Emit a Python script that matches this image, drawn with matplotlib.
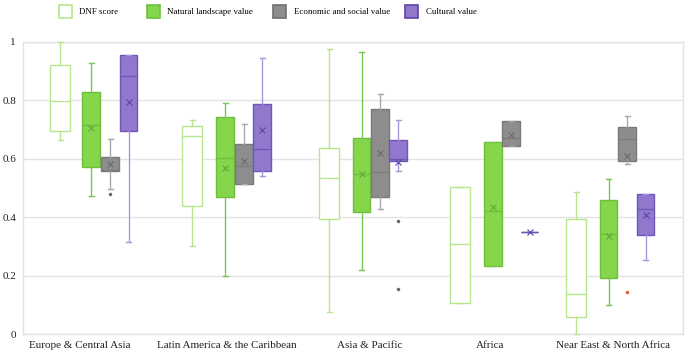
import matplotlib
matplotlib.use("Agg")
import matplotlib.pyplot as plt
from matplotlib.patches import Patch

plt.rcParams['font.family'] = ['Liberation Serif', 'DejaVu Serif']

regions = ["Europe & Central Asia", "Latin America & the Caribbean",
           "Asia & Pacific", "Africa", "Near East & North Africa"]
series_names = ["DNF score", "Natural landscape value",
                "Economic and social value", "Cultural value"]
yticks = [0, 0.2, 0.4, 0.6, 0.8, 1]
ytick_labels = ["0", "0.2", "0.4", "0.6", "0.8", "1"]

# DNF score
dnf_whislo = [0.663, 0.303, 0.075, 0.108, 0.0]
dnf_q1 = [0.695, 0.440, 0.393, 0.108, 0.058]
dnf_med = [0.796, 0.677, 0.533, 0.308, 0.137]
dnf_q3 = [0.919, 0.711, 0.636, 0.503, 0.393]
dnf_whishi = [1.0, 0.731, 0.974, 0.503, 0.487]
dnf_mean = [0.80, 0.60, 0.52, 0.31, 0.22]
dnf_fliers = [[], [], [], [], []]

# Natural landscape value
nat_whislo = [0.473, 0.200, 0.219, 0.233, 0.100]
nat_q1 = [0.573, 0.470, 0.417, 0.233, 0.192]
nat_med = [0.714, 0.601, 0.547, 0.420, 0.343]
nat_q3 = [0.827, 0.742, 0.670, 0.656, 0.459]
nat_whishi = [0.928, 0.790, 0.964, 0.656, 0.531]
nat_mean = [0.706, 0.569, 0.549, 0.436, 0.336]
nat_fliers = [[], [], [], [], []]

# Economic and social value
eco_whislo = [0.498, 0.513, 0.428, 0.644, 0.583]
eco_q1 = [0.557, 0.513, 0.468, 0.644, 0.593]
eco_med = [0.560, 0.575, 0.554, 0.671, 0.666]
eco_q3 = [0.605, 0.652, 0.769, 0.729, 0.707]
eco_whishi = [0.669, 0.720, 0.821, 0.729, 0.746]
eco_mean = [0.582, 0.592, 0.621, 0.681, 0.608]
eco_fliers = [[0.479], [], [], [], [0.145]]

# Cultural value
cul_whislo = [0.315, 0.540, 0.557, 0.350, 0.254]
cul_q1 = [0.696, 0.557, 0.593, 0.350, 0.338]
cul_med = [0.882, 0.633, 0.600, 0.350, 0.427]
cul_q3 = [0.955, 0.787, 0.664, 0.350, 0.479]
cul_whishi = [0.955, 0.943, 0.733, 0.350, 0.479]
cul_mean = [0.795, 0.697, 0.590, 0.350, 0.408]
cul_fliers = [[], [], [0.388, 0.156], [], []]

# ---- layout (pixel-like x coordinates) ----
pos = {
    "dnf": [60, 192, 329, 460, 576],
    "nat": [91, 225, 361.5, 493, 608.5],
    "eco": [110, 244, 380, 511, 627],
    "cul": [128.5, 262, 398, 529.5, 645.5],
}
label_pos = [79.5, 227, 370, 490, 613.5]
legend_left_px = [58.7, 146.7, 273.3, 405]


def stats(wl, q1, med, q3, wh, mean, fl):
    return [dict(whislo=a, q1=b, med=c, q3=d, whishi=e, mean=f, fliers=g)
            for a, b, c, d, e, f, g in zip(wl, q1, med, q3, wh, mean, fl)]


fig = plt.figure(figsize=(6.85, 3.58), dpi=100)
ax = fig.add_axes([23 / 685, 1 - 334.3 / 358, 660 / 685, (334.3 - 41.7) / 358])

cfg = [
    ("dnf", stats(dnf_whislo, dnf_q1, dnf_med, dnf_q3, dnf_whishi, dnf_mean, dnf_fliers),
     "white", "#b8e68c", "#b8e68c", "#b8e68c", False, 19.5),
    ("nat", stats(nat_whislo, nat_q1, nat_med, nat_q3, nat_whishi, nat_mean, nat_fliers),
     "#86d64b", "#6dbf3c", "#7cc552", "#5fa838", True, 17.5),
    ("eco", stats(eco_whislo, eco_q1, eco_med, eco_q3, eco_whishi, eco_mean, eco_fliers),
     "#8d8d8d", "#7a7a7a", "#a9a9a9", "#6a6a6a", True, 17.5),
    ("cul", stats(cul_whislo, cul_q1, cul_med, cul_q3, cul_whishi, cul_mean, cul_fliers),
     "#9178cd", "#6f56bb", "#ab97dd", "#5d45a8", True, 17.5),
]

for key, st, fc, ec, wc, mc, showmean, w in cfg:
    res = ax.bxp(st, positions=pos[key], widths=w, patch_artist=True,
                 showmeans=showmean, showfliers=True, capwidths=5,
                 boxprops=dict(facecolor=fc, edgecolor=ec, linewidth=1.0),
                 medianprops=dict(color=ec, linewidth=1.0),
                 whiskerprops=dict(color=wc, linewidth=1.0),
                 capprops=dict(color=wc, linewidth=1.0),
                 meanprops=dict(marker="x", markeredgecolor=mc, markersize=4,
                                markeredgewidth=0.8, linestyle="none"),
                 flierprops=dict(marker="o", markerfacecolor="#666666",
                                 markeredgecolor="none", markersize=2.5),
                 manage_ticks=False, zorder=3)
    for artist in res["whiskers"] + res["caps"] + res["boxes"]:
        artist.set_clip_on(False)
    if key == "eco":
        res["fliers"][4].set_markerfacecolor("#e0602a")

ax.set_xlim(23, 683)
ax.set_ylim(0, 1)
ax.set_yticks(yticks)
ax.set_yticklabels(ytick_labels, fontsize=8)
ax.set_xticks(label_pos)
ax.set_xticklabels(regions, fontsize=8)
ax.tick_params(axis="both", length=0, colors="#222222")
ax.tick_params(axis="x", pad=5)
ax.tick_params(axis="y", pad=5)
ax.grid(axis="y", color="#e3e3e3", linewidth=1.0, zorder=0)
ax.set_axisbelow(True)
for s in ["left", "right", "top", "bottom"]:
    ax.spines[s].set_color("#e3e3e3")
    ax.spines[s].set_linewidth(1.0)

handles = [
    Patch(facecolor="white", edgecolor="#b8e68c", linewidth=1.2),
    Patch(facecolor="#86d64b", edgecolor="#6dbf3c", linewidth=1.2),
    Patch(facecolor="#8d8d8d", edgecolor="#6f6f6f", linewidth=1.2),
    Patch(facecolor="#9178cd", edgecolor="#5d45a8", linewidth=1.2),
]
for h, name, xl in zip(handles, series_names, legend_left_px):
    fig.legend([h], [name], loc="center left",
               bbox_to_anchor=(xl / 685, 1 - 11.5 / 358),
               frameon=False, fontsize=6.4, handlelength=1.47,
               handleheight=1.9, handletextpad=0.85, borderpad=0,
               borderaxespad=0)

fig.savefig("out.png", dpi=100, facecolor="white")
